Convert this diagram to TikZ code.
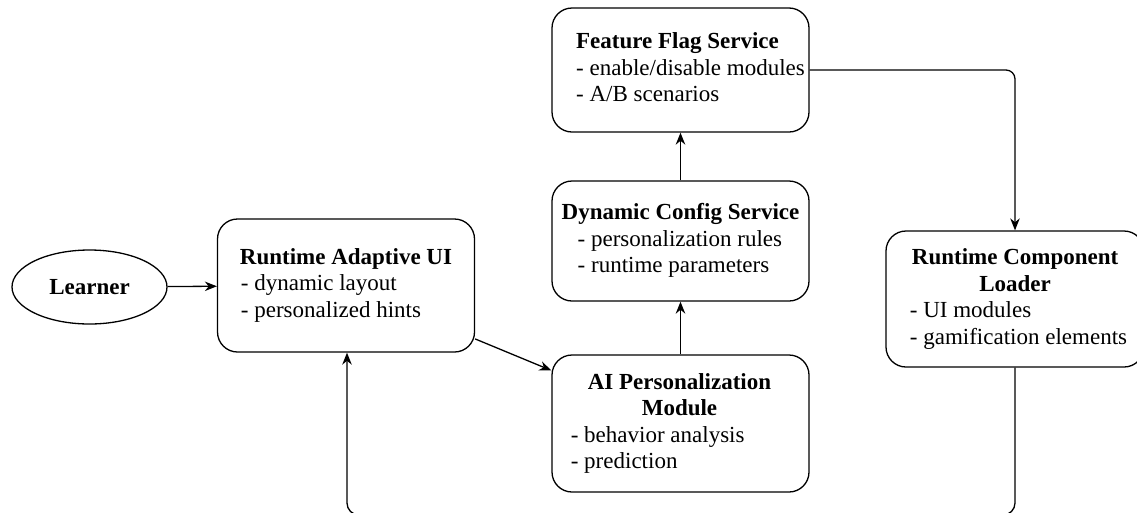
\documentclass[tikz,border=0pt]{standalone}
\usepackage{fontspec}
\setmainfont{Liberation Serif}
\usetikzlibrary{arrows.meta,shapes.geometric}

% stacked bold heading, each line centred under the widest one
\newcommand{\hd}[1]{\begin{tabular}[b]{@{}c@{}}#1\end{tabular}}

\begin{document}
\begin{tikzpicture}[x=1pt,y=-1pt,
  every node/.style={font=\fontsize{23}{26.5}\selectfont},
  blockbox/.style={draw,line width=1.3pt,rounded corners=20pt,
    minimum width=257pt,inner sep=0pt,align=left},
  userbox/.style={draw,line width=1.3pt,ellipse,minimum width=155pt,
    minimum height=74pt,inner sep=0pt,font=\fontsize{23}{26.5}\selectfont\bfseries},
  link/.style={line width=1.3pt,-{Stealth[length=12pt,width=9.5pt]}}]

\useasboundingbox (0,0) rectangle (1137,512);

\node[userbox] (learner) at (89.5,287) {Learner};

\node[blockbox,minimum height=133pt] (rui) at (346,285.5)
  {\begin{tabular}{@{}l@{}}\textbf{Runtime Adaptive UI}\\ \hspace{1pt}- dynamic layout\\ \hspace{1pt}- personalized hints\end{tabular}};

\node[blockbox,minimum height=124pt] (ffs) at (680.5,70)
  {\begin{tabular}{@{\hspace{20pt}}l@{}}\textbf{Feature Flag Service}\\ - enable/disable modules\\ - A/B scenarios\end{tabular}};

\node[blockbox,minimum height=120pt] (dcs) at (680.5,241)
  {\begin{tabular}{@{}l@{}}\textbf{Dynamic Config Service}\hspace{13pt}\\ \hspace{16pt}- personalization rules\\ \hspace{16pt}- runtime parameters\end{tabular}};

\node[blockbox,minimum height=137pt] (ai) at (680.5,423.5)
  {\begin{tabular}{@{}l@{\hspace{19pt}}}\hspace{17pt}\hd{\textbf{AI Personalization}\\ \textbf{Module}}\\ - behavior analysis\\ - prediction\end{tabular}};

\node[blockbox,minimum height=136pt,minimum width=258pt] (rcl) at (1015,299)
  {\begin{tabular}{@{\hspace{7pt}}l@{}}\hspace{2pt}\hd{\textbf{Runtime Component}\\ \textbf{Loader}}\\ - UI modules\\ - gamification elements\end{tabular}};

\coordinate (loopend) at (1015,515);

\draw[link] (learner) -- (rui);
\draw[link] (rui) -- (ai);
\draw[link] (ai) -- (dcs);
\draw[link] (dcs) -- (ffs);
\draw[link,rounded corners=9pt] (ffs.east) -| (rcl.north);
\draw[link,rounded corners=12pt] (rcl.south) -- (loopend) -| ([xshift=1pt]rui.south);

\end{tikzpicture}
\end{document}
